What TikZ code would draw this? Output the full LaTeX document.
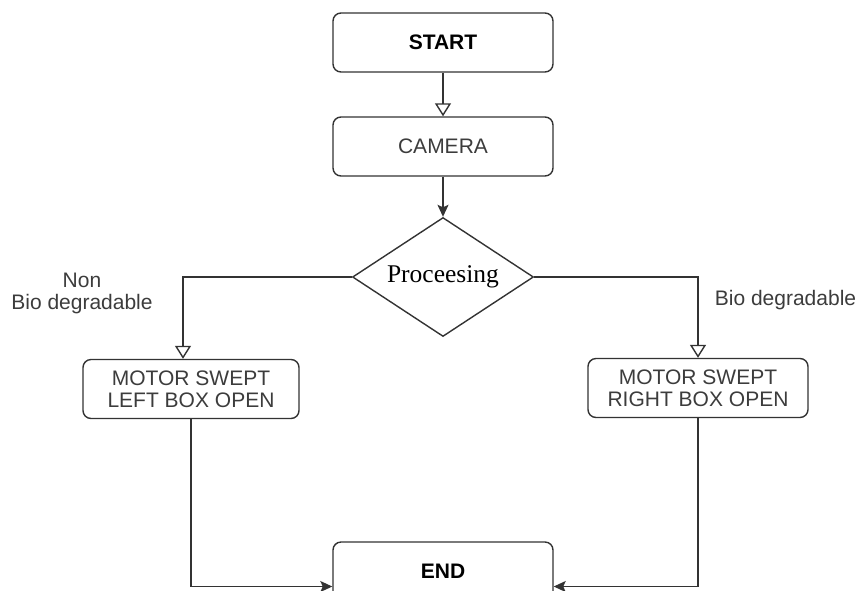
\documentclass[tikz,border=0pt]{standalone}
\usepackage{fontspec}
\setmainfont{Liberation Serif}
\setsansfont{Liberation Sans}
\usepackage{tikz}
\usetikzlibrary{arrows.meta,positioning,shapes.geometric}
\definecolor{LineGray}{RGB}{51,51,51}
\definecolor{TextGray}{RGB}{60,60,60}

\begin{document}
\begin{tikzpicture}[x=1pt,y=-1pt,
  stepbox/.style={draw=LineGray,rounded corners=8pt,line width=1.4pt,
                  minimum width=220pt,minimum height=59pt,align=center,
                  font=\sffamily\fontsize{21}{22}\selectfont,text=TextGray},
  decision/.style={diamond,aspect=1.52,draw=LineGray,line width=1.4pt,inner sep=0pt,
                   minimum width=181pt,minimum height=119pt,
                   font=\rmfamily\fontsize{25.5}{28}\selectfont},
  openarrow/.style={-{Triangle[open,length=13pt,width=16pt]},draw=LineGray,line width=1.4pt},
  fillarrow/.style={-{Stealth[length=12pt,width=11pt,inset=2.5pt]},draw=LineGray,line width=1.4pt},
  lbl/.style={font=\sffamily\fontsize{21}{22}\selectfont,text=TextGray,align=center},
]
\useasboundingbox (0,0) rectangle (861,590);
\clip (0,0) rectangle (861,590);

%% main column
\node[stepbox,text=black,font=\sffamily\bfseries\fontsize{21}{22}\selectfont]
      (start) at (443,42.5) {START};
\node[stepbox] (cam)  at (443,146.5) {CAMERA};
\node[decision] (proc) at (443,277) {Proceesing};

%% the two branches
\node[stepbox,minimum width=216pt] (lbox) at (191,389) {MOTOR SWEPT\\LEFT BOX OPEN};
\node[stepbox] (rbox) at (698,388) {MOTOR SWEPT\\RIGHT BOX OPEN};
\node[stepbox,text=black,font=\sffamily\bfseries\fontsize{21}{22}\selectfont]
      (fin) at (443,571.5) {END};

\node[lbl] (nonbio) at (82,293) {Non\\Bio degradable};
\node[lbl] (bio) at (785.5,300) {Bio degradable};

%% connectors
\draw[openarrow] (start) -- (cam);
\draw[fillarrow] (cam) -- (proc);
\draw[openarrow] (proc.west) -| ([xshift=-8pt]lbox.north);
\draw[openarrow] (proc.east) -| (rbox.north);
\draw[fillarrow] (lbox.south) |- ([yshift=-15pt]fin.west);
\draw[fillarrow] (rbox.south) |- ([yshift=-15pt]fin.east);

\end{tikzpicture}
\end{document}
